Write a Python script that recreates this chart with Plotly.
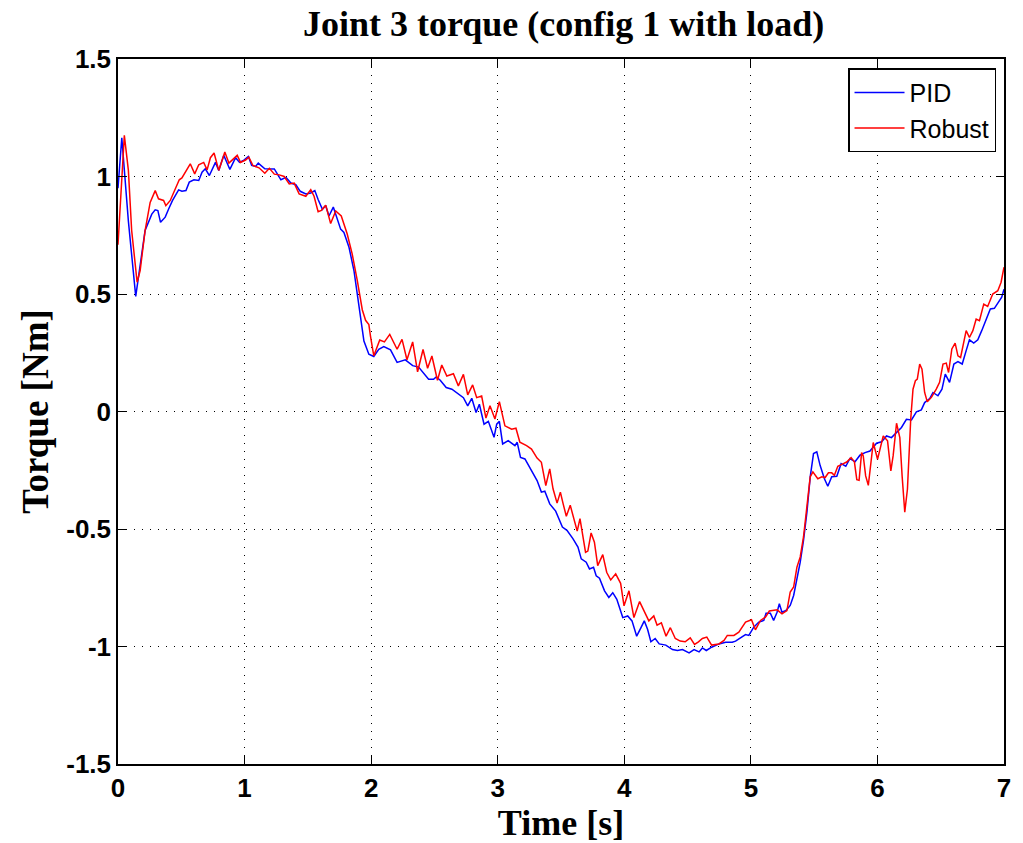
import plotly.graph_objects as go

# ---- data ----
pid_t = [0.0, 0.03, 0.082, 0.14, 0.214, 0.267, 0.294, 0.315, 0.336, 0.373, 0.4, 0.431, 0.479, 0.505,
         0.537, 0.563, 0.6, 0.638, 0.664, 0.69, 0.722, 0.77, 0.796, 0.836, 0.884, 0.929, 0.96, 0.995,
         1.03, 1.056, 1.087, 1.108, 1.16,
         1.196, 1.235, 1.287, 1.327, 1.366, 1.405, 1.44, 1.484, 1.523, 1.555, 1.581, 1.615, 1.641,
         1.667, 1.701, 1.728, 1.759, 1.785, 1.825, 1.864, 1.903, 1.943, 1.982, 2.021, 2.06, 2.1,
         2.153, 2.205, 2.27, 2.328,
         2.375, 2.415, 2.454, 2.493, 2.514, 2.546, 2.593, 2.638, 2.677, 2.729, 2.763, 2.795, 2.829,
         2.855, 2.892, 2.926, 2.971, 2.992, 3.013, 3.039, 3.083, 3.136, 3.154, 3.18, 3.215, 3.267,
         3.311, 3.345, 3.372, 3.411, 3.458, 3.511,
         3.547, 3.594, 3.634, 3.66, 3.699, 3.725, 3.757, 3.778, 3.804, 3.844, 3.878, 3.909, 3.941,
         3.988, 4.027, 4.061, 4.098, 4.132, 4.158, 4.184, 4.21, 4.244, 4.276, 4.328, 4.381, 4.42,
         4.46, 4.512, 4.551, 4.591, 4.617, 4.648, 4.69,
         4.748, 4.801, 4.853, 4.879, 4.918, 4.958, 4.984, 5.023, 5.063, 5.102, 5.12, 5.154, 5.18,
         5.207, 5.225, 5.246, 5.277, 5.311, 5.338, 5.364, 5.39, 5.416, 5.443, 5.469, 5.495, 5.521,
         5.547, 5.581, 5.608, 5.639, 5.679, 5.713, 5.75, 5.783, 5.823, 5.862,
         5.902, 5.941, 5.993, 6.033, 6.072, 6.111, 6.151, 6.19, 6.229, 6.269, 6.308, 6.347, 6.373,
         6.413, 6.439, 6.478, 6.51, 6.536, 6.57, 6.604, 6.636, 6.67, 6.701, 6.727, 6.761, 6.793,
         6.824, 6.858, 6.892, 6.924, 6.955, 6.982, 7.0]
pid_v = [0.95, 1.165, 0.81, 0.49, 0.77, 0.84, 0.858, 0.855, 0.805, 0.827, 0.862, 0.898, 0.943, 0.937,
         0.94, 0.976, 0.986, 0.983, 1.018, 1.033, 1.004, 1.06, 1.026, 1.09, 1.03, 1.08, 1.06, 1.07,
         1.085, 1.047, 1.043, 1.057, 1.033,
         1.032, 1.032, 0.986, 0.996, 0.972, 0.965, 0.937, 0.926, 0.93, 0.94, 0.902, 0.86, 0.877,
         0.832, 0.87, 0.825, 0.776, 0.762, 0.699, 0.6, 0.447, 0.3, 0.244, 0.234, 0.265, 0.276,
         0.262, 0.209, 0.22, 0.195,
         0.189, 0.165, 0.137, 0.137, 0.147, 0.133, 0.102, 0.095, 0.08, 0.059, 0.024, 0.056, -0.004,
         0.031, -0.054, -0.042, -0.11, -0.054, -0.042, -0.138, -0.124, -0.145, -0.131, -0.195, -0.202, -0.251,
         -0.294, -0.343, -0.339, -0.393, -0.424, -0.492,
         -0.506, -0.541, -0.577, -0.627, -0.641, -0.67, -0.663, -0.699, -0.709, -0.763, -0.791, -0.771, -0.799,
         -0.877, -0.87, -0.891, -0.956, -0.92, -0.891, -0.927, -0.98, -0.966, -0.989, -0.994, -1.013, -1.017,
         -1.013, -1.027, -1.013, -1.023, -1.006, -1.017, -1.003,
         -0.989, -0.982, -0.982, -0.977, -0.963, -0.949, -0.953, -0.918, -0.896, -0.889, -0.858, -0.858, -0.889,
         -0.854, -0.818, -0.854, -0.847, -0.825, -0.783, -0.719, -0.641, -0.548, -0.428, -0.278, -0.179, -0.172,
         -0.229, -0.286, -0.318, -0.278, -0.276, -0.222, -0.233, -0.2, -0.214, -0.186,
         -0.175, -0.168, -0.135, -0.129, -0.104, -0.111, -0.089, -0.068, -0.033, -0.036, -0.001, 0.007, 0.038,
         0.055, 0.081, 0.067, 0.095, 0.159, 0.124, 0.202, 0.212, 0.202, 0.259, 0.305, 0.291, 0.305,
         0.344, 0.393, 0.436, 0.439, 0.464, 0.486, 0.52]

robust_t = [0.0, 0.05, 0.082, 0.108, 0.151, 0.175, 0.214, 0.254, 0.294, 0.32, 0.36, 0.378, 0.413, 0.452,
            0.484, 0.505, 0.545, 0.571, 0.606, 0.638, 0.677, 0.704, 0.73, 0.759, 0.796, 0.844, 0.876,
            0.915, 0.942, 0.968, 1.008, 1.034, 1.066, 1.114, 1.16,
            1.196, 1.235, 1.274, 1.313, 1.353, 1.392, 1.431, 1.484, 1.523, 1.549, 1.581, 1.607, 1.641,
            1.68, 1.72, 1.764, 1.811, 1.85, 1.89, 1.93, 1.956, 1.982, 1.995, 2.021, 2.068, 2.105, 2.147,
            2.205, 2.244, 2.283, 2.328,
            2.367, 2.41, 2.446, 2.48, 2.524, 2.558, 2.598, 2.65, 2.689, 2.729, 2.763, 2.802, 2.834,
            2.873, 2.907, 2.939, 2.978, 3.013, 3.057, 3.11, 3.144, 3.175, 3.228, 3.267, 3.311, 3.345,
            3.38, 3.411, 3.437, 3.469, 3.495, 3.516,
            3.542, 3.573, 3.607, 3.628, 3.65, 3.694, 3.712, 3.738, 3.764, 3.79, 3.83, 3.861, 3.893,
            3.932, 3.971, 3.998, 4.037, 4.076, 4.121, 4.155, 4.194, 4.233, 4.259, 4.293, 4.33, 4.364,
            4.403, 4.442, 4.481, 4.521, 4.555, 4.586, 4.617, 4.652, 4.69,
            4.748, 4.788, 4.814, 4.866, 4.905, 4.958, 5.005, 5.036, 5.076, 5.115, 5.146, 5.207, 5.246,
            5.285, 5.311, 5.338, 5.364, 5.39, 5.416, 5.443, 5.469, 5.49, 5.529, 5.561, 5.587, 5.613,
            5.639, 5.66, 5.687, 5.731, 5.757, 5.792, 5.818, 5.837, 5.855, 5.875,
            5.888, 5.907, 5.928, 5.967, 6.001, 6.046, 6.08, 6.106, 6.124, 6.151, 6.177, 6.195, 6.216,
            6.237, 6.263, 6.281, 6.3, 6.315, 6.334, 6.352, 6.373, 6.394, 6.426, 6.465, 6.491, 6.518,
            6.544, 6.562, 6.588, 6.614, 6.636, 6.657, 6.675, 6.701, 6.727, 6.754, 6.78, 6.806, 6.84,
            6.871, 6.911, 6.951, 6.977, 7.0]
robust_v = [0.71, 1.175, 1.026, 0.77, 0.55, 0.6, 0.77, 0.89, 0.94, 0.905, 0.898, 0.876, 0.898, 0.947,
            0.986, 0.994, 1.028, 1.054, 1.011, 1.05, 1.06, 1.028, 1.08, 1.1, 1.026, 1.104, 1.057,
            1.075, 1.09, 1.06, 1.07, 1.082, 1.047, 1.037, 1.014,
            1.035, 1.01, 1.007, 1.0, 0.968, 0.972, 0.926, 0.916, 0.944, 0.916, 0.85, 0.856, 0.878,
            0.8, 0.853, 0.832, 0.755, 0.671, 0.559, 0.433, 0.388, 0.37, 0.32, 0.237, 0.304, 0.296, 0.328,
            0.265, 0.307, 0.22, 0.296,
            0.169, 0.264, 0.184, 0.236, 0.133, 0.198, 0.151, 0.161, 0.109, 0.158, 0.071, 0.113, 0.059,
            0.066, -0.028, 0.024, -0.032, 0.042, -0.061, -0.075, -0.071, -0.131, -0.145, -0.16, -0.198, -0.216,
            -0.315, -0.244, -0.329, -0.39, -0.343, -0.391,
            -0.446, -0.399, -0.463, -0.509, -0.456, -0.599, -0.594, -0.517, -0.556, -0.656, -0.609, -0.684, -0.717,
            -0.691, -0.731, -0.827, -0.763, -0.877, -0.809, -0.849, -0.891, -0.87, -0.909, -0.899, -0.956, -0.92,
            -0.966, -0.977, -0.98, -0.963, -0.991, -0.98, -0.966, -0.96, -0.994,
            -0.989, -0.974, -0.953, -0.953, -0.939, -0.896, -0.886, -0.929, -0.889, -0.875, -0.849, -0.844, -0.861,
            -0.847, -0.768, -0.747, -0.662, -0.619, -0.534, -0.413, -0.278, -0.257, -0.286, -0.278, -0.281, -0.261,
            -0.261, -0.271, -0.233, -0.222, -0.215, -0.196, -0.214, -0.29, -0.293, -0.175,
            -0.189, -0.274, -0.314, -0.132, -0.203, -0.104, -0.125, -0.253, -0.189, -0.05, -0.111, -0.274, -0.428,
            -0.331, -0.033, 0.095, 0.131, 0.138, 0.202, 0.18, 0.081, 0.041, 0.06, 0.095, 0.124, 0.202,
            0.206, 0.166, 0.266, 0.291, 0.237, 0.23, 0.28, 0.344, 0.315, 0.344, 0.393, 0.386, 0.457,
            0.447, 0.5, 0.514, 0.55, 0.614]

x_ticks = [0, 1, 2, 3, 4, 5, 6, 7]
x_tick_text = ["0", "1", "2", "3", "4", "5", "6", "7"]
y_ticks = [-1.5, -1, -0.5, 0, 0.5, 1, 1.5]
y_tick_text = ["-1.5", "-1", "-0.5", "0", "0.5", "1", "1.5"]

fig = go.Figure()
fig.add_trace(go.Scatter(x=pid_t, y=pid_v, mode="lines", name="PID",
                         line=dict(color="#0000ff", width=1.5)))
fig.add_trace(go.Scatter(x=robust_t, y=robust_v, mode="lines", name="Robust",
                         line=dict(color="#ff0000", width=1.5)))

tick_font = dict(family="Liberation Sans, Arial", size=26, color="black", weight="bold")
xtitle_font = dict(family="Liberation Serif, Times New Roman", size=36, color="black", weight="bold")
ytitle_font = dict(family="Liberation Serif, Times New Roman", size=37, color="black", weight="bold")

axis_common = dict(
    showline=True, linecolor="black", linewidth=1.5, mirror="ticks",
    ticks="inside", ticklen=8, tickcolor="black", tickwidth=1,
    showgrid=True, gridcolor="black", gridwidth=1, griddash="1px,7px",
    zeroline=False, tickfont=tick_font,
)

fig.update_layout(
    width=1023, height=843,
    paper_bgcolor="white", plot_bgcolor="white",
    margin=dict(l=118, r=15, t=59, b=79),
    title=dict(text="Joint 3 torque (config 1 with load)", x=0.551, xanchor="center",
               y=0.972, yanchor="middle",
               font=dict(family="Liberation Serif, Times New Roman", size=36, color="black", weight="bold")),
    xaxis=dict(range=[0, 7], tickvals=x_ticks, ticktext=x_tick_text,
               title=dict(text="Time [s]", font=xtitle_font, standoff=0), **axis_common),
    yaxis=dict(range=[-1.5, 1.5], tickvals=y_ticks, ticktext=y_tick_text,
               title=dict(text="Torque [Nm]", font=ytitle_font, standoff=6), **axis_common),
    legend=dict(x=0.991, xanchor="right", y=0.987, yanchor="top",
                bgcolor="white", bordercolor="black", borderwidth=1.5,
                tracegroupgap=0, itemwidth=50,
                font=dict(family="Liberation Sans, Arial", size=25, color="black")),
    showlegend=True,
)

fig.write_html("out.html")
